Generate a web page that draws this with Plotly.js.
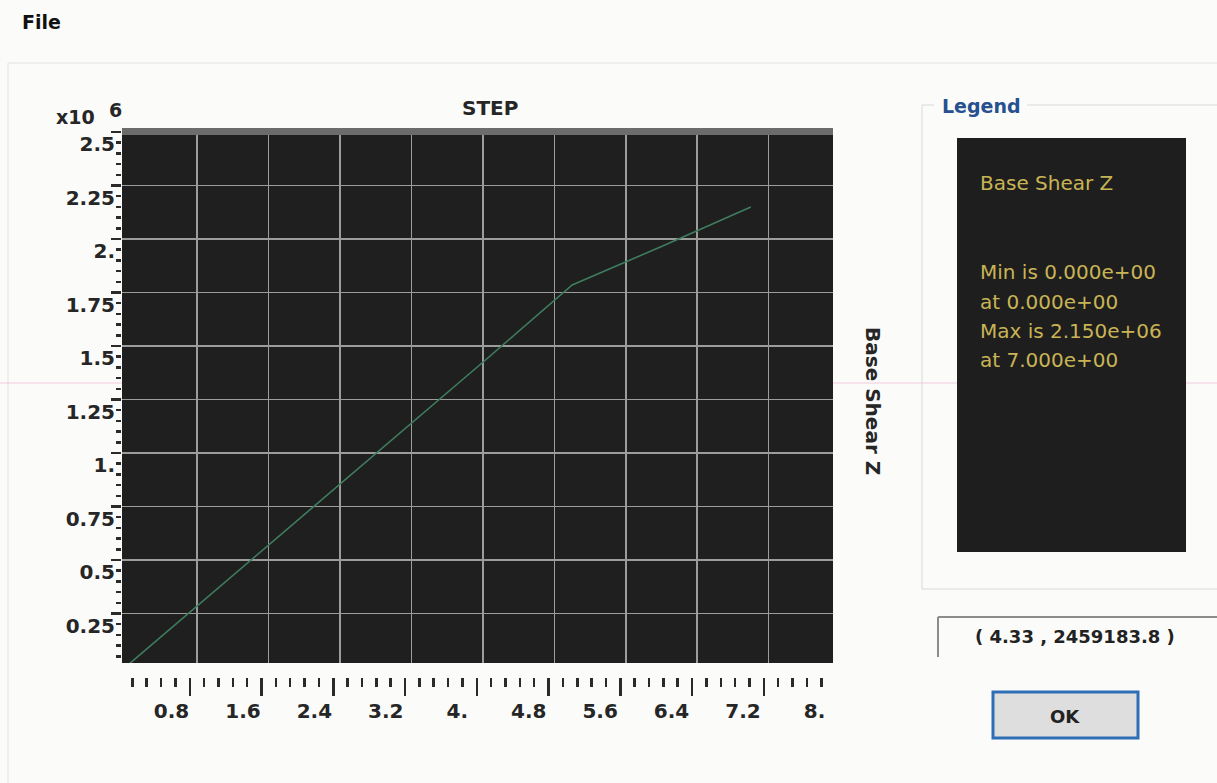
<!DOCTYPE html>
<html>
<head>
<meta charset="utf-8">
<script src="https://cdn.plot.ly/plotly-3.0.1.min.js"></script>
<style>html,body{margin:0;padding:0;background:#fbfbfa;}#chart{width:1217px;height:783px;}</style>
</head>
<body>
<div id="chart"></div>
<script>
// ---- data ----
const steps = [0, 1, 2, 3, 4, 5, 6, 7];
const baseShearZ = [0, 356000, 712000, 1068000, 1424000, 1785000, 1965000, 2150000];

const yTickVals = [250000, 500000, 750000, 1000000, 1250000, 1500000, 1750000, 2000000, 2250000, 2500000];
const yTickText = ["0.25", "0.5", "0.75", "1.", "1.25", "1.5", "1.75", "2.", "2.25", "2.5"];
const xTickVals = [0.8, 1.6, 2.4, 3.2, 4, 4.8, 5.6, 6.4, 7.2, 8];
const xTickText = ["0.8", "1.6", "2.4", "3.2", "4.", "4.8", "5.6", "6.4", "7.2", "8."];

const legendTitle = "Base Shear Z";
const legendLines = ["Min is 0.000e+00", "at 0.000e+00", "Max is 2.150e+06", "at 7.000e+00"];
const cursorText = "( 4.33 , 2459183.8 )";

// ---- layout helpers (pixel -> paper) ----
const W = 1217, H = 783;
const px = x => x / W;
const py = y => 1 - y / H;

const BOLD = {family: "DejaVu Sans", size: 20, color: "#262626", weight: "bold"};
const tickCol = "#2a2a2a";

function line(x0, y0, x1, y1, color, width) {
  return {type: "line", xref: "paper", yref: "paper", x0: px(x0), y0: py(y0), x1: px(x1), y1: py(y1),
          line: {color: color, width: width}};
}
function rect(x0, y0, x1, y1, fill, lc, lw) {
  return {type: "rect", xref: "paper", yref: "paper", x0: px(x0), y0: py(y0), x1: px(x1), y1: py(y1),
          fillcolor: fill, line: {color: lc || fill, width: lw || 0}};
}
function ann(text, x, y, font, xanchor, extra) {
  return Object.assign({text: text, xref: "paper", yref: "paper", x: px(x), y: py(y),
          xanchor: xanchor || "center", yanchor: "middle", showarrow: false, font: font}, extra || {});
}

const traces = [
  {type: "scatter", mode: "lines", x: steps, y: baseShearZ,
   line: {color: "#3f7d5e", width: 1.6}, xaxis: "x", yaxis: "y", hoverinfo: "x+y"},
  // empty traces so the tick-mark and tick-label axes are drawn
  {type: "scatter", mode: "lines", x: [], y: [], xaxis: "x2", yaxis: "y", hoverinfo: "skip"},
  {type: "scatter", mode: "lines", x: [], y: [], xaxis: "x3", yaxis: "y", hoverinfo: "skip"}
];

const legendFont = {family: "DejaVu Sans", size: 20, color: "#c9b455"};

const layout = {
  width: W, height: H,
  margin: {l: 0, r: 0, t: 0, b: 0},
  paper_bgcolor: "#fbfbfa",
  plot_bgcolor: "#1f1f1f",
  showlegend: false,
  xaxis: {
    domain: [px(122), px(833)], range: [-0.04, 7.92], anchor: "y",
    tickmode: "array", tickvals: xTickVals, showticklabels: false, ticks: "",
    showgrid: true, gridcolor: "#9c9c9c", gridwidth: 1.5, zeroline: false, showline: false
  },
  xaxis2: {
    overlaying: "x", anchor: "free", position: py(677), side: "bottom",
    range: [0.0446, 7.971], tickmode: "array", tickvals: xTickVals, showticklabels: false,
    ticks: "outside", ticklen: 18, tickwidth: 2.5, tickcolor: tickCol,
    minor: {tickmode: "linear", tick0: 0, dtick: 0.16, ticks: "outside", ticklen: 9, tickwidth: 2.5, tickcolor: tickCol, showgrid: false},
    showgrid: false, zeroline: false, showline: false
  },
  xaxis3: {
    overlaying: "x", anchor: "free", position: py(697), side: "bottom",
    range: [0.2457, 8.2076], tickmode: "array", tickvals: xTickVals, ticktext: xTickText,
    ticks: "", tickfont: BOLD, showgrid: false, zeroline: false, showline: false
  },
  yaxis: {
    domain: [py(663), py(129)], range: [18700, 2514000], anchor: "x",
    tickmode: "array", tickvals: yTickVals, ticktext: yTickText,
    ticks: "outside", ticklen: 10, tickwidth: 2.5, tickcolor: tickCol,
    minor: {tickmode: "linear", tick0: 0, dtick: 50000, ticks: "outside", ticklen: 5, tickwidth: 2.5, tickcolor: tickCol, showgrid: false},
    ticklabelshift: 12, ticklabelstandoff: -8, tickfont: BOLD,
    showgrid: true, gridcolor: "#9c9c9c", gridwidth: 1.5, zeroline: false, showline: false
  },
  shapes: [
    line(8, 63, 1217, 63, "#e2e2e2", 1),
    line(8, 63, 8, 783, "#e2e2e2", 1),
    line(0, 383, 122, 383, "rgba(235,170,200,0.6)", 1),
    line(833, 383, 957, 383, "rgba(235,170,200,0.6)", 1),
    line(1186, 383, 1217, 383, "rgba(235,170,200,0.6)", 1),
    rect(122, 128, 833, 135, "#6c6c6c"),
    line(922, 105, 934, 105, "#d9d9d9", 1),
    line(1027, 105, 1217, 105, "#d9d9d9", 1),
    line(922, 105, 922, 589, "#d9d9d9", 1),
    line(922, 589, 1217, 589, "#d9d9d9", 1),
    rect(957, 138, 1186, 552, "#1e1e1e"),
    line(938, 617, 1217, 617, "#8c8c8c", 2),
    line(938, 617, 938, 657, "#8c8c8c", 2),
    rect(993, 692, 1138, 738, "#dedede", "#2f6db5", 3)
  ],
  annotations: [
    ann("File", 20, 22, {family: "DejaVu Sans", size: 19, color: "#111", weight: "bold"}, "left"),
    ann("x10", 75, 117, {family: "DejaVu Sans", size: 19, color: "#262626", weight: "bold"}),
    ann("6", 116, 110, {family: "DejaVu Sans", size: 19, color: "#262626", weight: "bold"}),
    ann("STEP", 490, 108, BOLD),
    ann("Base Shear Z", 873, 401, BOLD, "center", {textangle: 90}),
    ann("Legend", 940, 106, {family: "DejaVu Sans", size: 19, color: "#27508f", weight: "bold"}, "left"),
    ann(legendTitle, 978, 183, legendFont, "left"),
    ann(legendLines[0], 978, 272, legendFont, "left"),
    ann(legendLines[1], 978, 302, legendFont, "left"),
    ann(legendLines[2], 978, 331, legendFont, "left"),
    ann(legendLines[3], 978, 360, legendFont, "left"),
    ann(cursorText, 1075, 636, {family: "DejaVu Sans", size: 18, color: "#222", weight: "bold"}),
    ann("OK", 1065, 716, {family: "DejaVu Sans", size: 18, color: "#222", weight: "bold"})
  ]
};

Plotly.newPlot("chart", traces, layout, {staticPlot: true, displayModeBar: false});
</script>
</body>
</html>
